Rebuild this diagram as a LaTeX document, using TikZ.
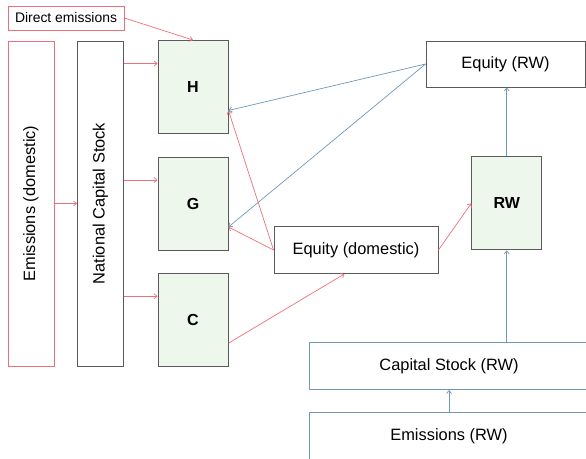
\documentclass[tikz,border=0pt]{standalone}
\usepackage{fontspec}
\setmainfont{Liberation Sans}
\usetikzlibrary{arrows.meta, calc}
\definecolor{boxline}{HTML}{5A5A5A}
\definecolor{redline}{HTML}{EE6F7A}
\definecolor{blueline}{HTML}{7097B8}
\definecolor{sectorfill}{HTML}{EEF7EC}

\begin{document}
\begin{tikzpicture}[x=1pt, y=-1pt,
  plainbox/.style={draw=boxline, line width=0.9pt, fill=white, inner sep=0pt, font=\fontsize{16.4}{19}\selectfont},
  redbox/.style={plainbox, draw=redline},
  sector/.style={plainbox, fill=sectorfill, minimum width=70pt, minimum height=93pt, font=\fontsize{16}{19}\selectfont\bfseries},
  redarr/.style={draw=redline, line width=0.7pt, -{Straight Barb[length=3pt,width=5pt]}},
  bluearr/.style={redarr, draw=blueline}]
  \clip (0,0) rectangle (586,458);
  % left column
  \node[redbox, minimum width=116pt, minimum height=24pt, font=\fontsize{13.9}{16}\selectfont] (direct) at (66,18) {Direct emissions};
  \node[redbox, rotate=90, minimum width=325pt, minimum height=46pt] (emdom) at (31,203.5) {Emissions (domestic)};
  \node[plainbox, rotate=90, minimum width=325pt, minimum height=46pt] (ncs) at (100.5,203.5) {National Capital Stock};
  % sectors
  \node[sector] (H) at (193,87) {H};
  \node[sector] (G) at (193,203.5) {G};
  \node[sector] (C) at (193,319.7) {C};
  \node[sector] (RW) at (506.7,203.4) {RW};
  % equity and rest of world
  \node[plainbox, minimum width=164pt, minimum height=47pt] (eqdom) at (356,250) {Equity (domestic)};
  \node[plainbox, minimum width=159pt, minimum height=46pt] (eqrw) at (505.5,64) {Equity (RW)};
  \node[plainbox, draw=blueline, minimum width=280pt, minimum height=47pt] (csrw) at (449,366) {Capital Stock (RW)};
  \node[plainbox, draw=blueline, minimum width=280pt, minimum height=48pt] (emrw) at (449,436.5) {Emissions (RW)};
  % entry points
  \coordinate (Hin) at ($(H.north west)!.25!(H.south west)$);
  \coordinate (Gin) at ($(G.north west)!.25!(G.south west)$);
  \coordinate (Cin) at ($(C.north west)!.25!(C.south west)$);
  \coordinate (Hout) at ($(H.north east)!.75!(H.south east)$);
  \coordinate (Gout) at ($(G.north east)!.75!(G.south east)$);
  \coordinate (Cout) at ($(C.north east)!.75!(C.south east)$);
  \coordinate (eqin) at ($(eqdom.south west)!.43!(eqdom.south east)$);
  % red links
  \draw[redarr] (direct.east) -- (H.north);
  \draw[redarr] (emdom) -- (ncs);
  \draw[redarr] (ncs.south |- Hin) -- (Hin);
  \draw[redarr] (ncs.south |- Gin) -- (Gin);
  \draw[redarr] (ncs.south |- Cin) -- (Cin);
  \draw[redarr] (eqdom.west) -- (Hout);
  \draw[redarr] (eqdom.west) -- (Gout);
  \draw[redarr] (Cout) -- (eqin);
  \draw[redarr] (eqdom.east) -- (RW.west);
  % blue links
  \draw[bluearr] (eqrw.west) -- (Hout);
  \draw[bluearr] (eqrw.west) -- (Gout);
  \draw[bluearr] (RW.north) -- (RW.north |- eqrw.south);
  \draw[bluearr] (RW.south |- csrw.north) -- (RW.south);
  \draw[bluearr] (emrw.north) -- (csrw.south);
\end{tikzpicture}
\end{document}
